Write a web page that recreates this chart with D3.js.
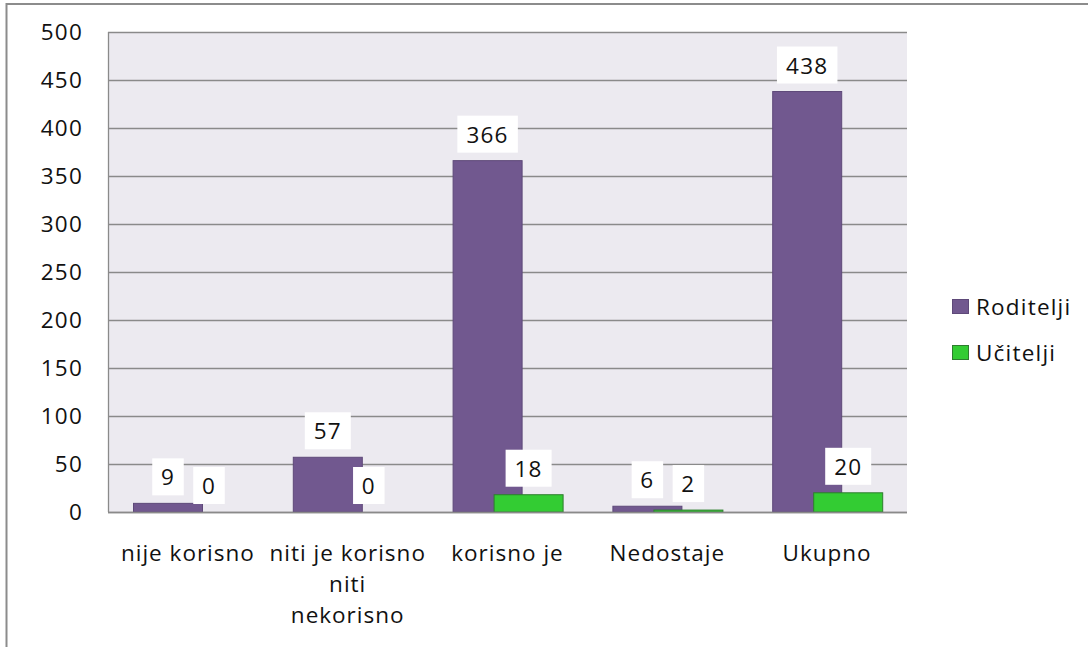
<!DOCTYPE html>
<html>
<head>
<meta charset="utf-8">
<script src="https://cdn.jsdelivr.net/npm/d3@7"></script>
<style>
  html, body { margin: 0; padding: 0; background: #fff; }
  svg text { font-family: "Open Sans", sans-serif; fill: #111; }
</style>
</head>
<body>
<svg id="chart" width="1088" height="647"></svg>
<script>
const categories = ["nije korisno", "niti je korisno niti nekorisno", "korisno je", "Nedostaje", "Ukupno"];
const categoryLines = [["nije korisno"], ["niti je korisno", "niti", "nekorisno"], ["korisno je"], ["Nedostaje"], ["Ukupno"]];
const seriesNames = ["Roditelji", "Učitelji"];
const roditelji = [9, 57, 366, 6, 438];
const ucitelji = [0, 0, 18, 2, 20];
const yTicks = [0, 50, 100, 150, 200, 250, 300, 350, 400, 450, 500];
const colors = ["#71588F", "#33CC33"];
const strokes = ["#5E4979", "#2E7D2E"];

const svg = d3.select("#chart");
const plot = { left: 108, top: 32, right: 907, bottom: 512 };
const FS = 22.5;

// outer frame
svg.append("line").attr("x1", 6.5).attr("x2", 6.5).attr("y1", 3).attr("y2", 647)
  .attr("stroke", "#8c8c8c").attr("stroke-width", 2);
svg.append("line").attr("x1", 6).attr("x2", 1088).attr("y1", 4).attr("y2", 4)
  .attr("stroke", "#8c8c8c").attr("stroke-width", 2);

const x = d3.scaleBand().domain(categories).range([plot.left, plot.right]).padding(0);
const y = d3.scaleLinear().domain([0, 500]).range([plot.bottom, plot.top]);
const sub = d3.scalePoint().domain(seriesNames).range([60, 101]);
const barW = 69;

// plot background
svg.append("rect").attr("x", plot.left).attr("y", plot.top)
  .attr("width", plot.right - plot.left).attr("height", plot.bottom - plot.top)
  .attr("fill", "#ECEAF0");

// gridlines
svg.append("g").selectAll("line").data(yTicks).join("line")
  .attr("x1", plot.left).attr("x2", plot.right)
  .attr("y1", d => Math.round(y(d)) + 0.5).attr("y2", d => Math.round(y(d)) + 0.5)
  .attr("stroke", "#8a8a8a").attr("stroke-width", 1.3);
svg.append("line").attr("x1", plot.left + 0.5).attr("x2", plot.left + 0.5)
  .attr("y1", plot.top).attr("y2", plot.bottom)
  .attr("stroke", "#8a8a8a").attr("stroke-width", 1.3);

// y axis labels
const yAxis = d3.axisLeft(y).tickValues(yTicks).tickSize(0).tickPadding(25);
const yg = svg.append("g").attr("transform", `translate(${plot.left},0)`).call(yAxis);
yg.select(".domain").remove();
yg.selectAll("text").attr("font-size", FS).attr("font-family", "Open Sans")
  .attr("letter-spacing", 1.2).attr("fill", "#111");

// bars
const seriesData = [roditelji, ucitelji];
seriesData.forEach((vals, si) => {
  svg.append("g").selectAll("rect").data(vals).join("rect")
    .attr("x", (d, i) => x(categories[i]) + sub(seriesNames[si]) - barW / 2)
    .attr("y", d => y(d))
    .attr("width", barW)
    .attr("height", d => Math.max(0, y(0) - y(d)))
    .attr("fill", colors[si])
    .attr("stroke", strokes[si]).attr("stroke-width", 1);
});

// data labels with white boxes
seriesData.forEach((vals, si) => {
  const g = svg.append("g");
  vals.forEach((d, i) => {
    const cx = x(categories[i]) + sub(seriesNames[si]);
    const txt = String(d);
    const w = 17 + txt.length * 14.5;
    const h = 37;
    const bottom = y(d) - 8;
    g.append("rect").attr("x", cx - w / 2).attr("y", bottom - h)
      .attr("width", w).attr("height", h).attr("fill", "#fff");
    g.append("text").attr("x", cx).attr("y", bottom - h / 2)
      .attr("text-anchor", "middle").attr("dominant-baseline", "central")
      .attr("font-size", FS).attr("letter-spacing", 1.2).text(txt);
  });
});

// x axis line
svg.append("line").attr("x1", plot.left).attr("x2", plot.right)
  .attr("y1", plot.bottom + 0.5).attr("y2", plot.bottom + 0.5)
  .attr("stroke", "#8a8a8a").attr("stroke-width", 1.5);

// category labels
categories.forEach((c, i) => {
  const t = svg.append("text").attr("x", x(c) + x.bandwidth() / 2).attr("y", 561)
    .attr("text-anchor", "middle").attr("font-size", FS).attr("letter-spacing", 1);
  categoryLines[i].forEach((ln, j) => {
    t.append("tspan").attr("x", x(c) + x.bandwidth() / 2).attr("dy", j === 0 ? 0 : 31).text(ln);
  });
});

// legend
const leg = svg.append("g");
seriesNames.forEach((s, i) => {
  const yy = 299 + i * 46;
  leg.append("rect").attr("x", 952.5).attr("y", yy + 0.5).attr("width", 16).attr("height", 14)
    .attr("fill", colors[i]).attr("stroke", strokes[i]).attr("stroke-width", 1);
  leg.append("text").attr("x", 976).attr("y", yy + 7).attr("dominant-baseline", "central")
    .attr("font-size", FS).attr("letter-spacing", 1.2).text(s);
});
</script>
</body>
</html>
